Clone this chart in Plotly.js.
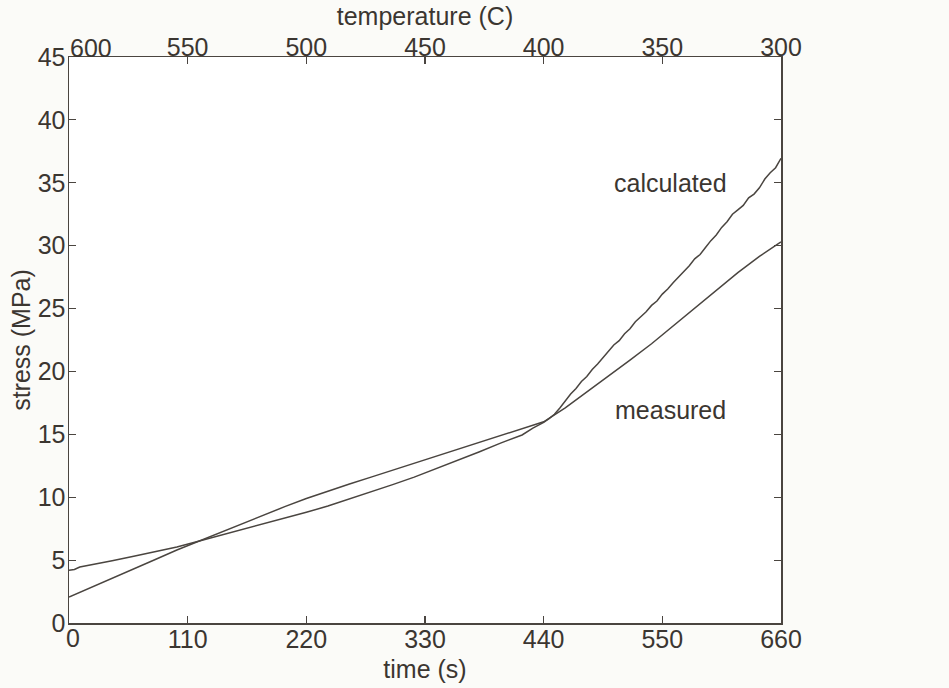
<!DOCTYPE html>
<html>
<head>
<meta charset="utf-8">
<script src="https://cdn.plot.ly/plotly-3.0.1.min.js"></script>
<style>html,body{margin:0;padding:0;background:#fbfbf8;}#chart{width:949px;height:688px;}</style>
</head>
<body>
<div id="chart"></div>
<script>
// time (s) and stress (MPa)
const timeMeasured = [0,20,40,60,80,100,120,140,160,180,200,220,240,260,280,300,320,340,360,380,400,420,440,460,480,500,520,540,560,580,600,620,640,660];
const stressMeasured = [2.07,2.8,3.55,4.3,5.05,5.8,6.5,7.2,7.9,8.6,9.25,9.9,10.5,11.05,11.6,12.15,12.7,13.2,13.75,14.3,14.85,15.4,16.0,17.1,18.35,19.6,20.9,22.2,23.6,25.0,26.45,27.85,29.15,30.3];

const timeCalculated = [0,5,10,20,40,60,80,100,120,140,160,180,200,220,240,260,280,300,320,340,360,380,400,410,420,430,440,445,450,455,460,465,470,475,480,485,490,495,500,505,510,515,520,525,530,535,540,545,550,555,560,565,570,575,580,585,590,595,600,605,610,615,620,625,630,635,640,645,650,655,660];
const stressCalculated = [4.2,4.25,4.45,4.6,4.95,5.3,5.65,6.05,6.5,6.95,7.4,7.85,8.35,8.8,9.3,9.85,10.4,11.0,11.6,12.25,12.9,13.6,14.3,14.6,14.95,15.5,15.95,16.25,16.6,17.1,17.65,18.2,18.65,19.2,19.6,20.15,20.6,21.1,21.55,22.1,22.45,23.0,23.4,23.95,24.35,24.75,25.25,25.6,26.15,26.55,27.05,27.5,28.0,28.4,28.95,29.3,29.85,30.4,30.85,31.45,31.9,32.5,32.85,33.2,33.8,34.1,34.6,35.3,35.8,36.2,36.95];

const timeTicks = [0,110,220,330,440,550,660];
const tempTicks = [600,550,500,450,400,350,300];
const stressTicks = [0,5,10,15,20,25,30,35,40,45];

const lineColor = '#4a4540';
const textColor = '#3b3631';
const fontFam = 'Liberation Sans, Arial, sans-serif';
const fs = 25;

const traces = [
  {x: timeMeasured, y: stressMeasured, mode: 'lines', line: {color: lineColor, width: 1.5}, hoverinfo: 'skip'},
  {x: timeCalculated, y: stressCalculated, mode: 'lines', line: {color: lineColor, width: 1.5}, hoverinfo: 'skip'},
  {x: [tempTicks[0], tempTicks[tempTicks.length-1]], y: [0, 0], xaxis: 'x2', mode: 'lines', opacity: 0, line: {width: 0}, hoverinfo: 'skip'}
];

const layout = {
  width: 949, height: 688,
  paper_bgcolor: '#fbfbf8', plot_bgcolor: '#ffffff',
  showlegend: false,
  margin: {l: 69, r: 168, t: 57, b: 65},
  font: {family: fontFam, size: fs, color: textColor},
  xaxis: {
    range: [0, 660], tickvals: timeTicks,
    ticktext: timeTicks.map((v, i) => i === 0 ? '' : String(v)),
    ticks: 'inside', ticklen: 7, tickcolor: lineColor, tickwidth: 1.2,
    ticklabelstandoff: -7,
    showline: true, linecolor: lineColor, linewidth: 1.5, mirror: true,
    showgrid: false, zeroline: false,
    title: {text: 'time (s)', font: {size: fs, color: textColor}, standoff: 9},
    tickfont: {size: fs, color: textColor}
  },
  xaxis2: {
    overlaying: 'x', side: 'top', anchor: 'y',
    range: [600, 300], tickvals: tempTicks,
    ticktext: tempTicks.map((v, i) => i === 0 ? '' : String(v)),
    ticks: 'inside', ticklen: 7, tickcolor: lineColor, tickwidth: 1.2,
    ticklabelstandoff: -10,
    showline: true, linecolor: lineColor, linewidth: 1.5,
    showgrid: false, zeroline: false,
    title: {text: 'temperature (C)', font: {size: fs, color: textColor}, standoff: 0},
    tickfont: {size: fs, color: textColor}
  },
  yaxis: {
    range: [0, 45], tickvals: stressTicks, ticktext: stressTicks.map(String),
    ticks: 'inside', ticklen: 7, tickcolor: lineColor, tickwidth: 1.2,
    ticklabelstandoff: -3,
    showline: true, linecolor: lineColor, linewidth: 1.5, mirror: 'ticks',
    showgrid: false, zeroline: false,
    title: {text: 'stress (MPa)', font: {size: fs, color: textColor}, standoff: 0},
    tickfont: {size: fs, color: textColor}
  },
  annotations: [
    {x: tempTicks[0], y: 1, xref: 'x2', yref: 'paper', text: String(tempTicks[0]), showarrow: false,
     xanchor: 'center', yanchor: 'middle', xshift: 22, yshift: 9, font: {size: fs, color: textColor}},
    {x: timeTicks[0], y: 0, xref: 'x', yref: 'paper', text: String(timeTicks[0]), showarrow: false,
     xanchor: 'center', yanchor: 'middle', xshift: 4, yshift: -15, font: {size: fs, color: textColor}},
    {x: 558, y: 34.95, xref: 'x', yref: 'y', text: 'calculated', showarrow: false, font: {size: fs, color: textColor}},
    {x: 558, y: 16.95, xref: 'x', yref: 'y', text: 'measured', showarrow: false, font: {size: fs, color: textColor}}
  ]
};

Plotly.newPlot('chart', traces, layout, {displayModeBar: false, staticPlot: true});
</script>
</body>
</html>
